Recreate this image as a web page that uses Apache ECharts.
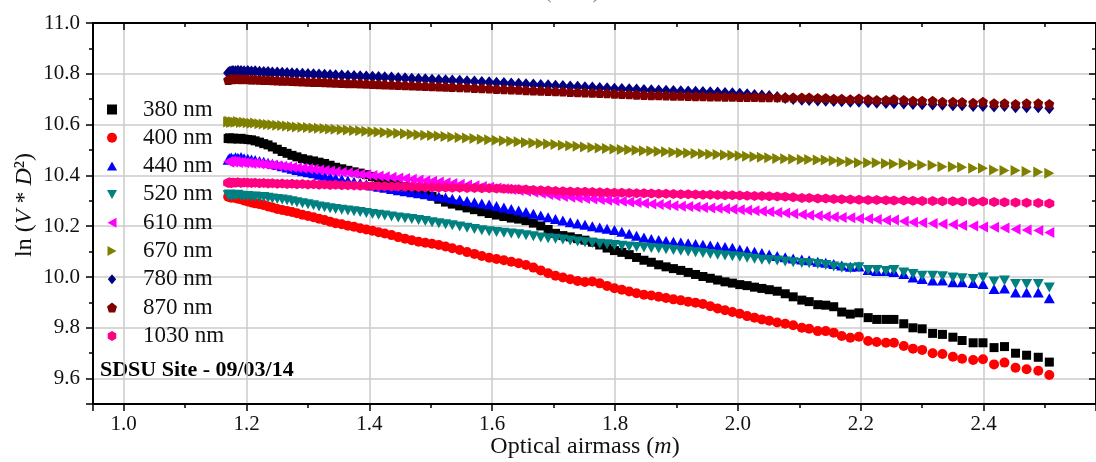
<!DOCTYPE html>
<html>
<head>
<meta charset="utf-8">
<script src="https://cdn.jsdelivr.net/npm/echarts@6/dist/echarts.min.js"></script>
<style>
  html, body { margin: 0; padding: 0; background: #ffffff; }
  #chart { width: 1096px; height: 462px; }
</style>
</head>
<body>
<div id="chart"></div>
<script>
// Optical airmass of each measurement (shared by all channels)
const airmass = [
  1.170, 1.172, 1.175, 1.178, 1.182, 1.186, 1.191, 1.196, 1.202,
  1.208, 1.214, 1.221, 1.228, 1.235, 1.242, 1.250,
  1.258, 1.266, 1.274, 1.282,
  1.291, 1.300, 1.309, 1.318, 1.327, 1.336, 1.345,
  1.355, 1.365, 1.375, 1.385, 1.395, 1.405, 1.415, 1.425,
  1.436, 1.447, 1.458, 1.469, 1.480, 1.491, 1.502, 1.513, 1.524, 1.535,
  1.547, 1.559, 1.571, 1.583, 1.595, 1.607, 1.619, 1.631, 1.643, 1.655,
  1.667, 1.679, 1.691, 1.703, 1.715, 1.727, 1.739, 1.751, 1.763, 1.775,
  1.787, 1.799, 1.811, 1.823, 1.835, 1.847, 1.859, 1.871, 1.883, 1.895,
  1.907, 1.919, 1.931, 1.943, 1.955, 1.967, 1.979, 1.991, 2.003, 2.015,
  2.027, 2.039, 2.051,
  2.064, 2.077, 2.090,
  2.104, 2.116, 2.130, 2.143, 2.156, 2.169, 2.183, 2.197, 2.212, 2.226,
  2.241, 2.254, 2.270, 2.285, 2.300, 2.317, 2.333, 2.350, 2.365, 2.383,
  2.399, 2.417, 2.434, 2.452, 2.470, 2.489, 2.507
];

// ln(V * D^2) per channel
const ln380 = [
  10.545, 10.548, 10.544, 10.547, 10.545, 10.543, 10.546, 10.543, 10.541,
  10.540, 10.536, 10.531, 10.525, 10.520, 10.512, 10.503,
  10.494, 10.487, 10.479, 10.473,
  10.466, 10.461, 10.457, 10.452, 10.447, 10.440, 10.432,
  10.426, 10.420, 10.414, 10.409, 10.403, 10.396, 10.389, 10.381,
  10.373, 10.365, 10.356, 10.346, 10.337, 10.327, 10.318, 10.306, 10.295, 10.287,
  10.280, 10.272, 10.265, 10.257, 10.250, 10.244, 10.238, 10.232, 10.228, 10.222,
  10.212, 10.201, 10.187, 10.172, 10.163, 10.158, 10.151, 10.145, 10.137, 10.126,
  10.114, 10.104, 10.097, 10.088, 10.077, 10.066, 10.058, 10.048, 10.040, 10.033,
  10.026, 10.018, 10.010, 10.002, 9.995, 9.988, 9.981, 9.976, 9.970, 9.966,
  9.960, 9.955, 9.950,
  9.944, 9.934, 9.922,
  9.909, 9.903, 9.891, 9.889, 9.883, 9.862, 9.854, 9.859, 9.840, 9.833,
  9.833, 9.833, 9.816, 9.800, 9.796, 9.778, 9.774, 9.763, 9.750, 9.741,
  9.741, 9.722, 9.726, 9.700, 9.692, 9.684, 9.665
];
const ln400 = [
  10.316, 10.318, 10.312, 10.314, 10.311, 10.308, 10.306, 10.301, 10.297,
  10.293, 10.290, 10.287, 10.283, 10.278, 10.274, 10.268,
  10.264, 10.260, 10.256, 10.251,
  10.245, 10.240, 10.235, 10.229, 10.224, 10.218, 10.212,
  10.208, 10.202, 10.198, 10.192, 10.187, 10.182, 10.176, 10.171,
  10.165, 10.157, 10.151, 10.145, 10.139, 10.135, 10.131, 10.126, 10.120, 10.113,
  10.106, 10.098, 10.091, 10.083, 10.076, 10.071, 10.066, 10.060, 10.054, 10.047,
  10.037, 10.026, 10.015, 10.005, 9.998, 9.991, 9.984, 9.980, 9.982, 9.975,
  9.965, 9.956, 9.950, 9.943, 9.936, 9.930, 9.927, 9.922, 9.917, 9.912,
  9.908, 9.903, 9.899, 9.894, 9.885, 9.876, 9.869, 9.862, 9.855, 9.846,
  9.840, 9.833, 9.828,
  9.821, 9.816, 9.810,
  9.800, 9.796, 9.787, 9.787, 9.781, 9.768, 9.761, 9.765, 9.748, 9.744,
  9.741, 9.741, 9.728, 9.718, 9.713, 9.700, 9.697, 9.686, 9.678, 9.673,
  9.676, 9.656, 9.663, 9.643, 9.637, 9.631, 9.614
];
const ln440 = [
  10.462, 10.468, 10.470, 10.466, 10.471, 10.469, 10.472, 10.468, 10.466,
  10.463, 10.461, 10.457, 10.454, 10.450, 10.446, 10.441,
  10.436, 10.431, 10.426, 10.421,
  10.416, 10.412, 10.408, 10.403, 10.399, 10.394, 10.390,
  10.385, 10.380, 10.375, 10.370, 10.365, 10.360, 10.355, 10.351,
  10.346, 10.342, 10.338, 10.334, 10.330, 10.326, 10.322, 10.317, 10.313, 10.308,
  10.304, 10.299, 10.294, 10.289, 10.285, 10.280, 10.274, 10.268, 10.262, 10.256,
  10.249, 10.242, 10.235, 10.228, 10.222, 10.216, 10.211, 10.206, 10.200, 10.195,
  10.190, 10.185, 10.178, 10.170, 10.162, 10.156, 10.150, 10.146, 10.142, 10.139,
  10.136, 10.133, 10.130, 10.127, 10.124, 10.121, 10.118, 10.115, 10.108, 10.103,
  10.099, 10.094, 10.089,
  10.083, 10.078, 10.073,
  10.069, 10.066, 10.060, 10.056, 10.051, 10.045, 10.040, 10.041, 10.028, 10.024,
  10.024, 10.020, 10.012, 9.998, 9.992, 9.986, 9.986, 9.979, 9.979, 9.976,
  9.972, 9.953, 9.955, 9.939, 9.939, 9.939, 9.916
];
const ln520 = [
  10.322, 10.325, 10.320, 10.323, 10.321, 10.324, 10.320, 10.318, 10.319,
  10.316, 10.317, 10.314, 10.315, 10.312, 10.309, 10.307,
  10.305, 10.302, 10.298, 10.294,
  10.290, 10.286, 10.282, 10.278, 10.275, 10.271, 10.268,
  10.265, 10.262, 10.259, 10.256, 10.252, 10.248, 10.245, 10.242,
  10.238, 10.234, 10.231, 10.228, 10.224, 10.220, 10.216, 10.212, 10.208, 10.204,
  10.199, 10.194, 10.189, 10.184, 10.180, 10.177, 10.174, 10.171, 10.168, 10.164,
  10.160, 10.156, 10.153, 10.151, 10.148, 10.144, 10.140, 10.137, 10.134, 10.131,
  10.129, 10.126, 10.123, 10.120, 10.118, 10.116, 10.114, 10.112, 10.109, 10.106,
  10.103, 10.100, 10.097, 10.094, 10.091, 10.088, 10.085, 10.082, 10.080, 10.076,
  10.072, 10.068, 10.067,
  10.065, 10.061, 10.058,
  10.055, 10.054, 10.051, 10.047, 10.041, 10.036, 10.034, 10.038, 10.028, 10.028,
  10.024, 10.028, 10.018, 10.012, 10.005, 10.005, 10.003, 9.998, 9.995, 9.992,
  9.998, 9.982, 9.986, 9.972, 9.972, 9.972, 9.959
];
const ln610 = [
  10.455, 10.452, 10.457, 10.453, 10.455, 10.451, 10.453, 10.450, 10.450,
  10.447, 10.448, 10.445, 10.444, 10.441, 10.440, 10.438,
  10.436, 10.434, 10.432, 10.430,
  10.428, 10.426, 10.424, 10.421, 10.419, 10.417, 10.414,
  10.412, 10.410, 10.407, 10.405, 10.403, 10.400, 10.398, 10.395,
  10.393, 10.390, 10.388, 10.385, 10.382, 10.379, 10.377, 10.374, 10.371, 10.368,
  10.365, 10.362, 10.359, 10.356, 10.353, 10.350, 10.347, 10.344, 10.341, 10.338,
  10.334, 10.330, 10.325, 10.320, 10.317, 10.314, 10.311, 10.309, 10.307, 10.305,
  10.302, 10.300, 10.298, 10.295, 10.293, 10.290, 10.287, 10.285, 10.283, 10.281,
  10.279, 10.278, 10.276, 10.274, 10.272, 10.271, 10.269, 10.267, 10.265, 10.263,
  10.261, 10.259, 10.257,
  10.254, 10.252, 10.249,
  10.246, 10.243, 10.241, 10.238, 10.236, 10.234, 10.233, 10.230, 10.229, 10.226,
  10.223, 10.224, 10.219, 10.216, 10.214, 10.211, 10.209, 10.207, 10.203, 10.201,
  10.197, 10.196, 10.193, 10.188, 10.185, 10.183, 10.175
];
const ln670 = [
  10.610, 10.613, 10.608, 10.611, 10.609, 10.612, 10.608, 10.609, 10.607,
  10.605, 10.606, 10.603, 10.602, 10.600, 10.599, 10.597,
  10.596, 10.594, 10.593, 10.591,
  10.590, 10.589, 10.587, 10.586, 10.585, 10.583, 10.582,
  10.580, 10.579, 10.577, 10.576, 10.574, 10.572, 10.571, 10.569,
  10.567, 10.566, 10.564, 10.562, 10.560, 10.558, 10.557, 10.555, 10.553, 10.551,
  10.549, 10.547, 10.545, 10.542, 10.540, 10.538, 10.536, 10.534, 10.532, 10.530,
  10.528, 10.526, 10.524, 10.522, 10.519, 10.517, 10.515, 10.512, 10.510, 10.508,
  10.506, 10.504, 10.502, 10.501, 10.499, 10.497, 10.496, 10.494, 10.493, 10.491,
  10.489, 10.488, 10.486, 10.485, 10.483, 10.482, 10.480, 10.479, 10.477, 10.475,
  10.473, 10.471, 10.469,
  10.467, 10.466, 10.465,
  10.463, 10.463, 10.461, 10.461, 10.458, 10.454, 10.454, 10.450, 10.450, 10.450,
  10.447, 10.445, 10.447, 10.441, 10.441, 10.440, 10.434, 10.434, 10.432, 10.428,
  10.428, 10.421, 10.419, 10.419, 10.415, 10.413, 10.408
];
const ln780 = [
  10.803, 10.807, 10.809, 10.811, 10.810, 10.812, 10.811, 10.810, 10.811,
  10.809, 10.810, 10.808, 10.807, 10.807, 10.805, 10.805,
  10.804, 10.803, 10.802, 10.801,
  10.800, 10.799, 10.798, 10.797, 10.796, 10.795, 10.794,
  10.793, 10.792, 10.791, 10.790, 10.789, 10.788, 10.787, 10.786,
  10.785, 10.783, 10.782, 10.781, 10.780, 10.779, 10.777, 10.776, 10.775, 10.774,
  10.773, 10.771, 10.770, 10.768, 10.767, 10.765, 10.764, 10.762, 10.761, 10.759,
  10.758, 10.756, 10.755, 10.753, 10.752, 10.750, 10.749, 10.747, 10.746, 10.744,
  10.743, 10.741, 10.740, 10.739, 10.738, 10.736, 10.735, 10.734, 10.733, 10.732,
  10.731, 10.730, 10.729, 10.728, 10.727, 10.726, 10.724, 10.723, 10.721, 10.719,
  10.717, 10.715, 10.713,
  10.709, 10.705, 10.701,
  10.698, 10.697, 10.695, 10.694, 10.693, 10.692, 10.690, 10.690, 10.688, 10.686,
  10.685, 10.684, 10.683, 10.681, 10.680, 10.679, 10.678, 10.676, 10.676, 10.673,
  10.673, 10.671, 10.673, 10.668, 10.668, 10.668, 10.664
];
const ln870 = [
  10.776, 10.779, 10.781, 10.779, 10.780, 10.781, 10.779, 10.780, 10.779,
  10.778, 10.778, 10.777, 10.776, 10.776, 10.775, 10.774,
  10.773, 10.773, 10.772, 10.771,
  10.770, 10.769, 10.768, 10.768, 10.767, 10.766, 10.765,
  10.764, 10.763, 10.763, 10.762, 10.761, 10.760, 10.759, 10.758,
  10.757, 10.756, 10.755, 10.754, 10.753, 10.752, 10.751, 10.750, 10.749, 10.748,
  10.747, 10.746, 10.744, 10.743, 10.742, 10.740, 10.739, 10.738, 10.737, 10.735,
  10.734, 10.733, 10.732, 10.731, 10.730, 10.728, 10.727, 10.726, 10.725, 10.724,
  10.723, 10.721, 10.720, 10.719, 10.718, 10.717, 10.716, 10.716, 10.715, 10.714,
  10.714, 10.713, 10.712, 10.712, 10.711, 10.711, 10.710, 10.710, 10.709, 10.709,
  10.709, 10.708, 10.708,
  10.708, 10.707, 10.707,
  10.707, 10.707, 10.705, 10.705, 10.702, 10.702, 10.700, 10.703, 10.700, 10.697,
  10.697, 10.700, 10.697, 10.694, 10.694, 10.694, 10.690, 10.690, 10.689, 10.686,
  10.690, 10.684, 10.684, 10.681, 10.684, 10.684, 10.681
];
const ln1030 = [
  10.370, 10.373, 10.369, 10.372, 10.371, 10.373, 10.370, 10.372, 10.371,
  10.370, 10.371, 10.369, 10.370, 10.368, 10.369, 10.367,
  10.368, 10.366, 10.367, 10.365,
  10.366, 10.364, 10.365, 10.363, 10.364, 10.362, 10.363,
  10.361, 10.361, 10.360, 10.359, 10.359, 10.358, 10.357, 10.357,
  10.356, 10.356, 10.355, 10.355, 10.354, 10.353, 10.353, 10.352, 10.352, 10.351,
  10.351, 10.350, 10.350, 10.349, 10.349, 10.348, 10.347, 10.346, 10.345, 10.344,
  10.343, 10.342, 10.341, 10.339, 10.338, 10.337, 10.336, 10.336, 10.335, 10.334,
  10.333, 10.332, 10.332, 10.331, 10.330, 10.330, 10.329, 10.328, 10.328, 10.327,
  10.326, 10.326, 10.325, 10.324, 10.324, 10.323, 10.322, 10.322, 10.321, 10.320,
  10.319, 10.319, 10.318,
  10.317, 10.316, 10.314,
  10.311, 10.311, 10.309, 10.309, 10.307, 10.306, 10.305, 10.304, 10.303, 10.303,
  10.302, 10.301, 10.301, 10.300, 10.299, 10.299, 10.298, 10.298, 10.297, 10.296,
  10.297, 10.295, 10.294, 10.293, 10.292, 10.291, 10.289
];

const channelNames = ['380 nm', '400 nm', '440 nm', '520 nm', '610 nm', '670 nm', '780 nm', '870 nm', '1030 nm'];
const channelValues = [ln380, ln400, ln440, ln520, ln610, ln670, ln780, ln870, ln1030];

// Marker look per channel
const colors = ['#000000', '#ff0000', '#0000ff', '#008080', '#ff00ff', '#808000', '#000080', '#800000', '#ff0080'];
const symbols = [
  'path://M0,0 L10,0 L10,10 L0,10 Z',
  'circle',
  'path://M5,0 L10,9 L0,9 Z',
  'path://M0,0 L10,0 L5,9 Z',
  'path://M0,5 L9,0 L9,10 Z',
  'path://M0,0 L9,5 L0,10 Z',
  'path://M5,0 L10,6 L5,12 L0,6 Z',
  'path://M5,0 L10,3.8 L8.1,10 L1.9,10 L0,3.8 Z',
  'path://M5,0 L9.3,2.5 L9.3,7.5 L5,10 L0.7,7.5 L0.7,2.5 Z'
];
const sizes = [9, 10, [11, 10], [11, 10], [10, 11], [10, 11], [10, 12], 10, 10];

const serif = '"Liberation Serif", "Times New Roman", serif';

const chart = echarts.init(document.getElementById('chart'), null, { renderer: 'canvas' });

const series = channelNames.map((name, k) => ({
  type: 'scatter',
  name: name,
  data: airmass.map((m, i) => [m, channelValues[k][i]]),
  symbol: symbols[k],
  symbolSize: sizes[k],
  itemStyle: { color: colors[k], opacity: 1 },
  emphasis: { disabled: true },
  silent: true,
  animation: false
}));

const tickLine = { color: '#000', width: 1.5 };

chart.setOption({
  backgroundColor: '#ffffff',
  animation: false,
  grid: { left: 93, top: 23, right: -2, bottom: 58, containLabel: false },
  xAxis: [
    {
      type: 'value', position: 'bottom', min: 0.95, max: 2.583,
      splitNumber: 8, minInterval: 0.2, maxInterval: 0.2,
      axisLine: { show: true, onZero: false, lineStyle: { color: '#000', width: 2 } },
      axisTick: { show: true, inside: false, length: 7, lineStyle: tickLine },
      minorTick: { show: true, splitNumber: 2, length: 4, lineStyle: tickLine },
      splitLine: { show: true, lineStyle: { color: '#cbcbcb', width: 1.5 } },
      axisLabel: {
        fontFamily: serif, fontSize: 21, color: '#111', margin: 10,
        showMinLabel: false, showMaxLabel: false,
        formatter: v => v.toFixed(1)
      }
    },
    {
      type: 'value', position: 'top', min: 0.95, max: 2.583,
      splitNumber: 8, minInterval: 0.2, maxInterval: 0.2,
      axisLine: { show: true, onZero: false, lineStyle: { color: '#000', width: 2 } },
      axisTick: { show: true, inside: true, length: 7, lineStyle: tickLine },
      minorTick: { show: true, splitNumber: 2, length: 4, lineStyle: tickLine },
      splitLine: { show: false },
      axisLabel: { show: false }
    }
  ],
  yAxis: [
    {
      type: 'value', position: 'left', min: 9.5, max: 11.0,
      splitNumber: 8, minInterval: 0.2, maxInterval: 0.2,
      axisLine: { show: true, onZero: false, lineStyle: { color: '#000', width: 2 } },
      axisTick: { show: true, inside: false, length: 7, lineStyle: tickLine },
      minorTick: { show: true, splitNumber: 2, length: 4, lineStyle: tickLine },
      splitLine: { show: true, lineStyle: { color: '#cbcbcb', width: 1.5 } },
      axisLabel: {
        fontFamily: serif, fontSize: 21, color: '#111', margin: 13,
        showMinLabel: false,
        formatter: v => v.toFixed(1)
      }
    },
    {
      type: 'value', position: 'right', min: 9.5, max: 11.0,
      splitNumber: 8, minInterval: 0.2, maxInterval: 0.2,
      axisLine: { show: true, onZero: false, lineStyle: { color: '#000', width: 2 } },
      axisTick: { show: true, inside: true, length: 7, lineStyle: tickLine },
      minorTick: { show: true, splitNumber: 2, length: 4, lineStyle: tickLine },
      splitLine: { show: false },
      axisLabel: { show: false }
    }
  ],
  legend: {
    orient: 'vertical',
    left: 107, top: 98, padding: 0,
    itemWidth: 10, itemHeight: 10, itemGap: 5.3,
    selectedMode: false,
    data: channelNames,
    textStyle: {
      fontFamily: serif, fontSize: 23, color: '#111', lineHeight: 22.4,
      padding: [0, 0, 0, 21]
    }
  },
  graphic: [
    {
      type: 'text', x: 140, y: -7.5, silent: true,
      style: {
        text: 'Calibration of the Automated Solar Radiometer (ASR).',
        fontFamily: serif, fontSize: 21, fill: '#8a8a8a',
        align: 'left', verticalAlign: 'middle',
        textAlign: 'left', textVerticalAlign: 'middle'
      }
    },
    {
      type: 'text', x: 25, y: 205, rotation: Math.PI / 2, silent: true,
      style: {
        text: '{n|ln (}{i|V}{n| * }{i|D}{n|²)}',
        rich: {
          n: { fontFamily: serif, fontSize: 24, fill: '#111' },
          i: { fontFamily: serif, fontSize: 24, fontStyle: 'italic', fill: '#111' }
        },
        align: 'center', verticalAlign: 'middle',
        textAlign: 'center', textVerticalAlign: 'middle'
      }
    },
    {
      type: 'text', x: 585, y: 447, silent: true,
      style: {
        text: '{n|Optical airmass (}{i|m}{n|)}',
        rich: {
          n: { fontFamily: serif, fontSize: 24, fill: '#111' },
          i: { fontFamily: serif, fontSize: 24, fontStyle: 'italic', fill: '#111' }
        },
        align: 'center', verticalAlign: 'middle',
        textAlign: 'center', textVerticalAlign: 'middle'
      }
    },
    {
      type: 'text', x: 100, y: 370, silent: true,
      style: {
        text: 'SDSU Site - 09/03/14',
        fontFamily: serif, fontSize: 22, fontWeight: 'bold', fill: '#000',
        align: 'left', verticalAlign: 'middle',
        textAlign: 'left', textVerticalAlign: 'middle'
      }
    }
  ],
  series: series
});
</script>
</body>
</html>
